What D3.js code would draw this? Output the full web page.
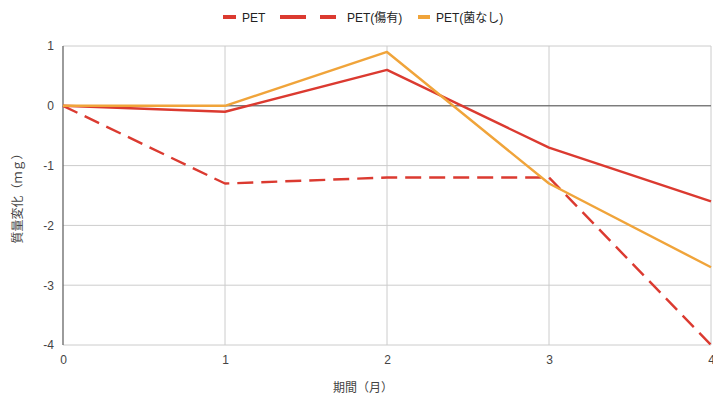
<!DOCTYPE html>
<html>
<head>
<meta charset="utf-8">
<script src="https://cdn.jsdelivr.net/npm/d3@7/dist/d3.min.js"></script>
<style>
  html, body { margin: 0; padding: 0; background: #fff; }
  svg { display: block; font-family: "Liberation Sans", Arial, "Noto Sans CJK JP", sans-serif; }
</style>
</head>
<body>
<svg id="chart" width="713" height="398"></svg>
<script>
// Months since start
const months = [0, 1, 2, 3, 4];
// Mass change (mg) for each sample
const petValues = [0, -0.1, 0.6, -0.7, -1.6];
const petScratchedValues = [0, -1.3, -1.2, -1.2, -4.0];
const petNoBacteriaValues = [0, 0, 0.9, -1.3, -2.7];
const yTicks = [1, 0, -1, -2, -3, -4];
const xTicks = [0, 1, 2, 3, 4];

const seriesNames = ["PET", "PET(傷有)", "PET(菌なし)"];
const RED = "#db3a30", ORANGE = "#f0a43a";

const series = [
  { name: seriesNames[0], values: petValues, color: RED, dash: null },
  { name: seriesNames[1], values: petScratchedValues, color: RED, dash: "16,8" },
  { name: seriesNames[2], values: petNoBacteriaValues, color: ORANGE, dash: null }
];

const svg = d3.select("#chart");
const margin = { left: 63, right: 2, top: 46, bottom: 53 };
const W = 713, H = 398;

const x = d3.scaleLinear().domain([0, 4]).range([margin.left, W - margin.right]);
const y = d3.scaleLinear().domain([-4, 1]).range([H - margin.bottom, margin.top]);

// Grid lines
const grid = svg.append("g");
grid.selectAll(".hg").data(yTicks).join("line")
  .attr("x1", x(0)).attr("x2", x(4))
  .attr("y1", d => y(d)).attr("y2", d => y(d))
  .attr("stroke", "#cccccc").attr("stroke-width", 1);
grid.selectAll(".vg").data(xTicks.filter(d => d > 0)).join("line")
  .attr("x1", d => x(d)).attr("x2", d => x(d))
  .attr("y1", y(1)).attr("y2", y(-4))
  .attr("stroke", "#cccccc").attr("stroke-width", 1);

// Zero baseline and left axis
svg.append("line")
  .attr("x1", x(0)).attr("x2", x(4)).attr("y1", y(0)).attr("y2", y(0))
  .attr("stroke", "#555").attr("stroke-width", 1);
svg.append("line")
  .attr("x1", x(0)).attr("x2", x(0)).attr("y1", y(1)).attr("y2", y(-4))
  .attr("stroke", "#666").attr("stroke-width", 1.3);

// Tick labels with plain hyphen minus
const fmt = d => String(d);
const yAxis = svg.append("g")
  .attr("transform", `translate(${x(0) - 6},0)`)
  .call(d3.axisLeft(y).tickValues(yTicks).tickSize(0).tickFormat(fmt));
yAxis.select(".domain").remove();
yAxis.selectAll("text").attr("fill", "#444").style("font-size", "12px").attr("dx", "0");

const xAxis = svg.append("g")
  .attr("transform", `translate(0,${y(-4) + 7})`)
  .call(d3.axisBottom(x).tickValues(xTicks).tickSize(0).tickFormat(fmt));
xAxis.select(".domain").remove();
xAxis.selectAll("text").attr("fill", "#444").style("font-size", "12px");

// Lines
const line = d3.line().x((d, i) => x(months[i])).y(d => y(d));
svg.append("clipPath").attr("id", "plotclip").append("rect")
  .attr("x", x(0) - 2).attr("y", y(1) - 3).attr("width", x(4) - x(0) + 4).attr("height", y(-4) - y(1) + 3);
svg.append("g").attr("clip-path", "url(#plotclip)")
  .selectAll("path").data(series).join("path")
  .attr("d", d => line(d.values))
  .attr("fill", "none")
  .attr("stroke", d => d.color)
  .attr("stroke-width", 2.4)
  .attr("stroke-dasharray", d => d.dash)
  .attr("stroke-linejoin", "round");

// Axis titles
svg.append("text")
  .attr("x", 363).attr("y", 392)
  .attr("text-anchor", "middle")
  .attr("fill", "#444").style("font-size", "12px")
  .text("期間（月）");
svg.append("text")
  .attr("transform", `translate(22,${(y(1) + y(-4)) / 2}) rotate(-90)`)
  .attr("text-anchor", "middle")
  .attr("fill", "#444").style("font-size", "12px")
  .text("質量変化（ｍｇ）");

// Legend
const legend = svg.append("g").attr("transform", "translate(0,17)");
const lg = [
  { name: series[0].name, color: RED, swatch: [[223, 236]], tx: 242 },
  { name: series[1].name, color: RED, swatch: [[280, 306], [320, 336]], tx: 347 },
  { name: series[2].name, color: ORANGE, swatch: [[418, 430]], tx: 436 }
];
lg.forEach(item => {
  item.swatch.forEach(([a, b]) => {
    legend.append("line")
      .attr("x1", a).attr("x2", b).attr("y1", 0).attr("y2", 0)
      .attr("stroke", item.color).attr("stroke-width", 4);
  });
  legend.append("text")
    .attr("x", item.tx).attr("y", 4.5)
    .attr("fill", "#222").style("font-size", "12px")
    .text(item.name);
});
</script>
</body>
</html>
